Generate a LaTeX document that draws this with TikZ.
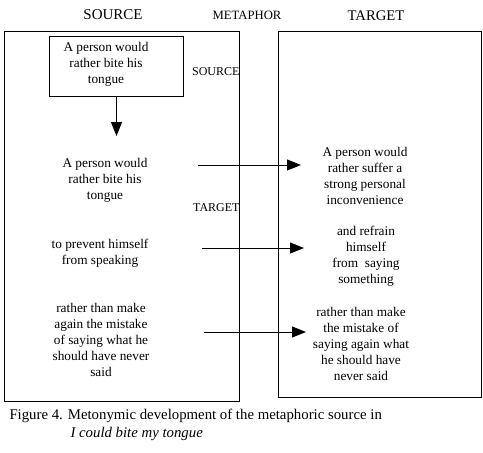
\documentclass[tikz,border=0pt]{standalone}
\usepackage{fontspec}
\setmainfont{Liberation Serif}
\usepackage{tikz}
\usetikzlibrary{arrows.meta,positioning}

\begin{document}
\begin{tikzpicture}[x=1pt, y=-1pt, line width=1pt,
    frame/.style={draw, rectangle, anchor=north west, inner sep=0pt},
    phrase/.style={align=center, font=\fontsize{13.3}{16}\selectfont, inner sep=0pt},
    heading/.style={font=\fontsize{15}{18}\selectfont, inner sep=0pt},
    tag/.style={font=\fontsize{12}{14}\selectfont, inner sep=0pt},
    arrow/.style={-{Triangle[length=14pt, width=11pt]}}
]
\useasboundingbox (0,0) rectangle (483,453);

% headings
\node[heading] (hsrc) at (113,15) {SOURCE};
\node[tag, font=\fontsize{12.7}{15}\selectfont] (hmet) at (247,15) {METAPHOR};
\node[heading, font=\fontsize{14.7}{17}\selectfont] (htgt) at (376,16) {TARGET};

% the two domains
\node[frame, minimum width=235pt, minimum height=370pt] (srcdom) at (4,31) {};
\node[frame, minimum width=203pt, minimum height=366pt] (tgtdom) at (278,31) {};
\node[frame, minimum width=134pt, minimum height=60pt] (srcorig) at (49,36) {};
\node[phrase] (origtext) at (106,64) {A person would\\rather bite his\\tongue};

\node[tag, anchor=east] (lblsrc) at (srcdom.east |- 0,72) {SOURCE};
\node[tag, anchor=east] (lbltgt) at (srcdom.east |- 0,208) {TARGET};

% source side
\node[phrase] (src1) at (105,180) {A person would\\rather bite his\\tongue};
\node[phrase] (src2) at (100,253) {to prevent himself\\from speaking};
\node[phrase] (src3) at (101,340) {rather than make\\again the mistake\\of saying what he\\should have never\\said};

% target side
\node[phrase] (tgt1) at (365,176) {A person would\\rather suffer a\\strong personal\\inconvenience};
\node[phrase] (tgt2) at (366,256) {and refrain\\himself\\from\ \ saying\\something};
\node[phrase] (tgt3) at (361,344) {rather than make\\the mistake of\\saying again what\\he should have\\never said};

% connectors
\coordinate (down) at (srcorig.south |- 0,136);
\draw[arrow] (srcorig.south) -- (down);
\coordinate (m1a) at (198,165);
\coordinate (m1b) at (301,165);
\coordinate (m2a) at (202,248);
\coordinate (m2b) at (304,248);
\coordinate (m3a) at (204,332);
\coordinate (m3b) at (306,332);
\draw[arrow] (m1a) -- (m1b);
\draw[arrow] (m2a) -- (m2b);
\draw[arrow] (m3a) -- (m3b);

% caption
\node[anchor=west, font=\fontsize{14.8}{17}\selectfont, inner sep=0pt] (cap1) at (9,416) {Figure 4. Metonymic development of the metaphoric source in};
\node[anchor=west, font=\fontsize{14.8}{17}\selectfont\itshape, inner sep=0pt] (cap2) at (70,434) {I could bite my tongue};
\end{tikzpicture}
\end{document}
